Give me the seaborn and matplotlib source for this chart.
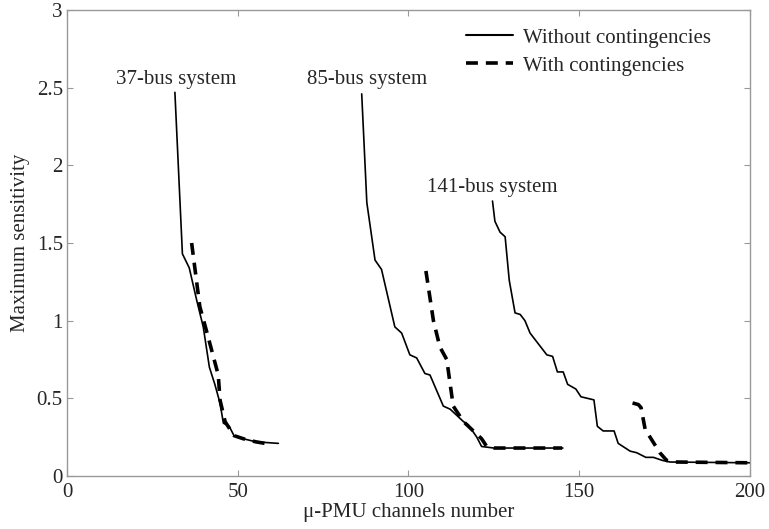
import matplotlib
matplotlib.use("Agg")
import matplotlib.pyplot as plt
import seaborn as sns
import pandas as pd
from matplotlib.lines import Line2D

# 37-bus system
x37_wo = [31.6, 33.8, 35.8, 38.0, 39.9, 41.7, 43.3, 44.8, 45.8, 47.5, 48.9, 51.6, 55.3, 61.9]
y37_wo = [2.47, 1.43, 1.34, 1.13, 0.96, 0.70, 0.59, 0.47, 0.34, 0.32, 0.26, 0.24, 0.22, 0.21]
x37_w = [36.5, 38.9, 40.9, 44.3, 44.8, 46.3, 48.9, 51.6, 55.3, 58.0]
y37_w = [1.50, 1.09, 0.93, 0.65, 0.49, 0.35, 0.26, 0.24, 0.22, 0.21]

# 85-bus system
x85_wo = [86.3, 87.8, 90.2, 92.1, 96.0, 98.0, 100.4, 102.4, 104.8, 106.3, 110.2, 112.2,
          116.1, 117.5, 120.0, 121.4, 125.0, 145.2]
y85_wo = [2.46, 1.76, 1.39, 1.33, 0.96, 0.92, 0.78, 0.76, 0.66, 0.65, 0.45, 0.43,
          0.35, 0.33, 0.25, 0.19, 0.18, 0.18]
x85_w = [105.1, 107.3, 109.2, 111.2, 113.1, 116.1, 121.4, 122.9, 125.0, 145.0]
y85_w = [1.32, 1.00, 0.83, 0.75, 0.45, 0.35, 0.24, 0.19, 0.18, 0.18]

# 141-bus system
x141_wo = [124.6, 125.3, 126.8, 128.3, 129.5, 131.2, 132.7, 134.1, 135.6, 140.5, 142.2,
           143.6, 145.3, 146.6, 149.0, 150.5, 154.3, 155.3, 157.0, 160.2, 161.4, 164.9,
           166.8, 169.5, 171.7, 174.4, 176.6, 200.0]
y141_wo = [1.77, 1.64, 1.57, 1.54, 1.26, 1.05, 1.04, 1.00, 0.92, 0.78, 0.77,
           0.67, 0.67, 0.59, 0.56, 0.51, 0.49, 0.32, 0.29, 0.29, 0.21, 0.16,
           0.15, 0.12, 0.12, 0.10, 0.09, 0.085]
x141_w = [165.6, 167.3, 168.1, 169.3, 173.6, 175.6, 178.0, 200.0]
y141_w = [0.47, 0.46, 0.44, 0.30, 0.15, 0.10, 0.09, 0.085]

system_labels = ["37-bus system", "85-bus system", "141-bus system"]
label_x = [32.1, 87.8, 124.4]
label_y = [2.55, 2.55, 1.86]
legend_labels = ["Without contingencies", "With contingencies"]

sns.set_style("ticks")
plt.rcParams['font.family'] = ['Liberation Serif', 'DejaVu Serif']

FS = 15
fig = plt.figure(figsize=(7.69, 5.29), dpi=100)
ax = fig.add_axes([0.0871, 0.1002, 0.8882, 0.8809])

series = [
    (x37_wo, y37_wo, False), (x37_w, y37_w, True),
    (x85_wo, y85_wo, False), (x85_w, y85_w, True),
    (x141_wo, y141_wo, False), (x141_w, y141_w, True),
]
dash_pat = (3.3, 2.2)
for xs, ys, dashed in series:
    df = pd.DataFrame({"x": xs, "y": ys})
    if dashed:
        sns.lineplot(data=df, x="x", y="y", ax=ax, color="black", linewidth=2.6,
                     sort=False, estimator=None)
        ax.lines[-1].set_dashes(dash_pat)
    else:
        sns.lineplot(data=df, x="x", y="y", ax=ax, color="black", linewidth=1.2,
                     sort=False, estimator=None)

for t, lx, ly in zip(system_labels, label_x, label_y):
    ax.text(lx, ly, t, ha="center", va="center", fontsize=FS)

ax.set_xlim(0, 200)
ax.set_ylim(0, 3)
ax.set_xticks([0, 50, 100, 150, 200])
ax.set_yticks([0, 0.5, 1, 1.5, 2, 2.5, 3])
ax.set_yticklabels(["0", "0.5", "1", "1.5", "2", "2.5", "3"])
ax.tick_params(direction="in", length=4, color="#999999", labelsize=FS,
               top=True, right=True, pad=3)
ax.tick_params(axis="x", pad=5)
for s in ax.spines.values():
    s.set_color("#999999")
    s.set_linewidth(1.0)
ax.set_xlabel("μ-PMU channels number", fontsize=FS, labelpad=1)
ax.set_ylabel("Maximum sensitivity", fontsize=FS, labelpad=5)

handles = [Line2D([0], [0], color="black", lw=1.5),
           Line2D([0], [0], color="black", lw=2.6, dashes=dash_pat)]
fig.legend(handles, legend_labels, loc="upper left", frameon=False, fontsize=FS,
           handlelength=2.25, handletextpad=0.5, borderpad=0, borderaxespad=0,
           bbox_to_anchor=(466 / 769, 1 - 28 / 529), labelspacing=0.4)

fig.savefig("out.png", dpi=100)
